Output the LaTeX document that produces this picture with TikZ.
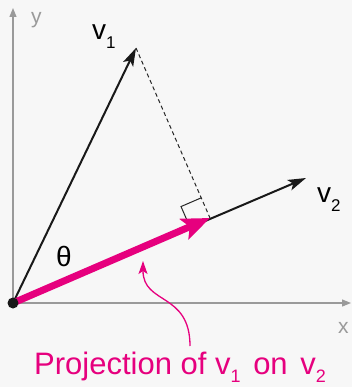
\documentclass[tikz,border=0pt]{standalone}
\usepackage{fontspec}
\setmainfont{Liberation Sans}
\usetikzlibrary{arrows.meta,calc}
\definecolor{bgcol}{HTML}{F7F7F7}
\definecolor{axisgray}{HTML}{9A9A9A}
\definecolor{mag}{HTML}{E6007E}
\newcommand{\vsub}[1]{\raisebox{-9pt}{\fontsize{17}{17}\selectfont #1}}
\newcommand{\csub}[1]{\raisebox{-8pt}{\fontsize{18}{18}\selectfont #1}}
\begin{document}
\begin{tikzpicture}[x=1pt,y=-1pt,
  axis/.style={axisgray,line width=1.2pt,-{Triangle[length=9pt,width=7pt]}},
  axlabel/.style={axisgray,font=\fontsize{21}{21}\selectfont,inner sep=0pt,anchor=base west},
  vec/.style={black!90,line width=2pt,-{Stealth[length=18pt,width=11pt,inset=4pt]}},
  proj/.style={mag,line width=7pt,-{Stealth[length=28pt,width=22pt,inset=6pt]}},
  dashline/.style={black!85,line width=1pt,dash pattern=on 4pt off 3pt},
  rightang/.style={black!85,line width=1pt},
  lbl/.style={font=\fontsize{28}{28}\selectfont,inner sep=0pt,anchor=base west},
  caplbl/.style={mag,font=\fontsize{31}{31}\selectfont,inner sep=0pt,anchor=base west},
  pointer/.style={mag,line width=1.3pt,-{Stealth[length=13pt,width=9pt,inset=3pt]}}]
\fill[bgcol] (0,0) rectangle (352,387);
\useasboundingbox (0,0) rectangle (352,387);
\coordinate (O) at (13,303);
\coordinate (YT) at (13,8);
\coordinate (XT) at (351,303);
\coordinate (V1) at (136,48);
\coordinate (V2) at (306,178);
\coordinate (P) at (210,218);
\draw[axis] (O) -- (YT);
\draw[axis] (O) -- (XT);
\node[axlabel] (ylab) at (31,24) {y};
\node[axlabel] (xlab) at (338,333) {x};
\draw[dashline] (V1) -- (P);
\coordinate (RA) at ($(P)!22pt!(O)$);
\coordinate (RB) at ($(P)!22pt!(V1)$);
\coordinate (RC) at ($(RA)+(RB)-(P)$);
\draw[rightang] (RA) -- (RC) -- (RB);
\draw[vec] (O) -- (V1);
\draw[vec] (O) -- (V2);
\draw[proj] (O) -- (P);
\fill[black!90] (O) circle (5.5pt);
\node[lbl] (v1lab) at (92,40) {v\vsub{1}};
\node[lbl] (v2lab) at (317,202) {v\vsub{2}};
\node[lbl] (theta) at (56,266) {θ};
\node[caplbl] (caption) at (34,374) {Projection of v\csub{1}\hspace{4pt} on \hspace{4pt}v\csub{2}};
\coordinate (CS) at (190,346);
\coordinate (CT) at (143,261);
\draw[pointer] (CS) .. controls (190,292) and (143,305) .. (CT);
\end{tikzpicture}
\end{document}
